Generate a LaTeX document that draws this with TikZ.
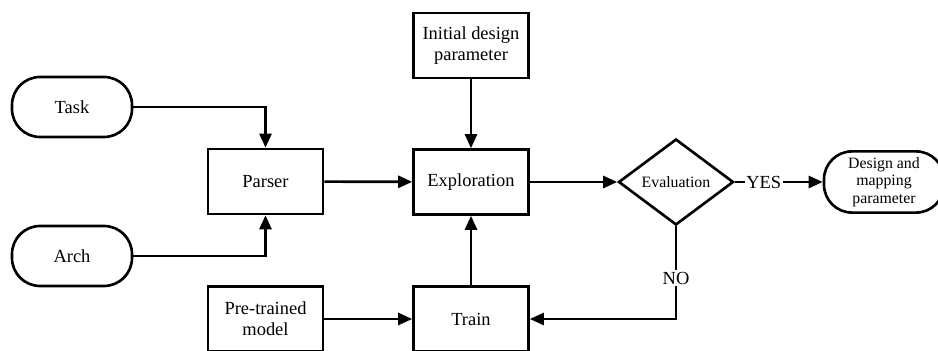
\documentclass[tikz,border=0pt]{standalone}
\usepackage{fontspec}
\setmainfont{Liberation Serif}
\usetikzlibrary{shapes.geometric,arrows.meta}

\tikzset{
  box/.style={draw, line width=1.5pt, minimum width=2.3cm, minimum height=1.3cm,
    align=center, font=\rmfamily\fontsize{10.5pt}{12pt}\selectfont},
  pill/.style={draw, line width=1.5pt, rounded corners=0.56cm, minimum width=2.4cm,
    minimum height=1.2cm, align=center, font=\rmfamily\fontsize{10.5pt}{12pt}\selectfont},
  decide/.style={draw, diamond, line width=1.5pt, inner sep=0pt, minimum width=2.3cm,
    minimum height=1.72cm, font=\rmfamily\fontsize{9pt}{10pt}\selectfont},
  flow/.style={-{Triangle[length=0.28cm, width=0.24cm]}, line width=1.5pt},
  tag/.style={fill=white, inner sep=1pt, font=\rmfamily\fontsize{10.5pt}{12pt}\selectfont}
}

\begin{document}
\begin{tikzpicture}
\useasboundingbox (0,0) rectangle (18.76,7.02);
\clip (0,0) rectangle (18.76,7.02);

%% inputs
\node[pill] (task) at (1.44,4.88) {Task};
\node[pill] (arch) at (1.44,1.90) {Arch};

%% blocks
\node[box] (parser) at (5.31,3.39) {Parser};
\node[box] (pretrained) at (5.31,0.64) {Pre-trained\\model};
\node[box] (init) at (9.42,6.11) {Initial design\\parameter};
\node[box] (explore) at (9.42,3.38) {Exploration};
\node[box] (train) at (9.42,0.64) {Train};

%% decision and result
\node[decide] (eval) at (13.52,3.38) {Evaluation};
\node[pill, font=\rmfamily\fontsize{9pt}{10pt}\selectfont] (result) at (17.68,3.38)
  {Design and\\mapping\\parameter};

%% edges
\draw[flow] (task.east) -| (parser.north);
\draw[flow] (arch.east) -| (parser.south);
\draw[flow] (parser) -- (explore);
\draw[flow] (init) -- (explore);
\draw[flow] (train) -- (explore);
\draw[flow] (pretrained) -- (train);
\draw[flow] (explore) -- (eval);
\draw[flow] (eval.east) -- node[tag, pos=0.33] {YES} (result.west);
\draw[flow] (eval.south) |- node[tag, pos=0.28] {NO} (train.east);
\end{tikzpicture}
\end{document}
